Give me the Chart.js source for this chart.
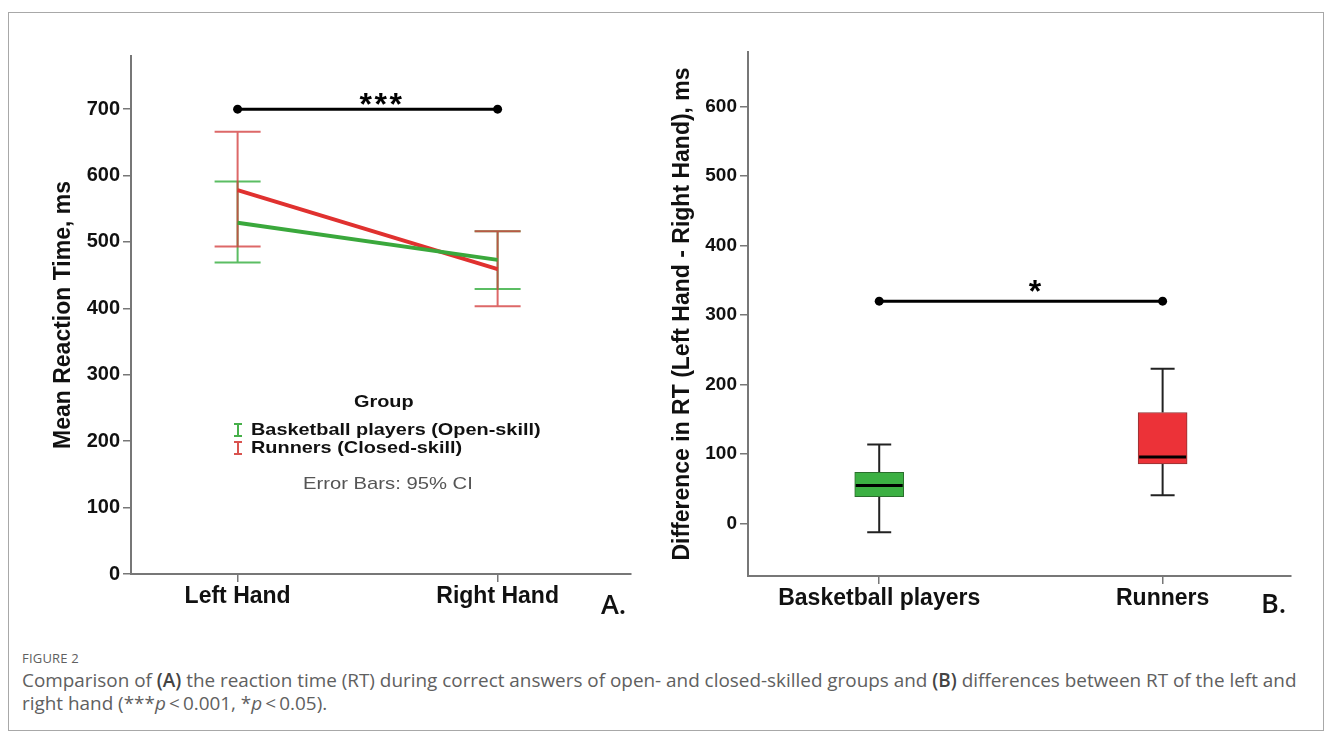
<!DOCTYPE html>
<html>
<head>
<meta charset="utf-8">
<script src="https://cdn.jsdelivr.net/npm/chart.js@4.4.1/dist/chart.umd.min.js"></script>
<style>
  html, body { margin: 0; padding: 0; background: #fff; }
  body { position: relative; width: 1333px; height: 738px; overflow: hidden; font-family: "Liberation Sans", Arial, sans-serif; }
  #frame { position: absolute; left: 8px; top: 12px; width: 1314px; height: 717px; border: 1px solid #a8a8a8; }
  #chartA { position: absolute; left: 0; top: 0; }
  #chartB { position: absolute; left: 660px; top: 0; }
  .txt { position: absolute; white-space: nowrap; color: #111; }
  .leg { font-weight: bold; font-size: 17px; line-height: 18px; transform-origin: left center; transform: translateY(-50%) scaleX(1.17); }
  .icon { position: absolute; width: 8px; height: 10px; border-top: 2px solid; border-bottom: 2px solid; transform: translate(-50%, -50%); }
  .icon::after { content: ""; position: absolute; left: 3px; top: 0; width: 2px; height: 10px; background: currentColor; }
  .letter { font-family: "Open Sans", sans-serif; font-weight: 600; font-size: 27px; transform: translateY(-50%); }
  #caption { position: absolute; left: 22px; top: 647px; font-family: "Open Sans", sans-serif; color: #606060; }
  #caption .fig { font-size: 13px; letter-spacing: 0.2px; line-height: 22px; }
  #caption .body { font-size: 18.9px; line-height: 23px; white-space: nowrap; }
  #caption b { font-weight: 600; color: #444; }
</style>
</head>
<body>
<div id="frame"></div>
<canvas id="chartA" width="660" height="620"></canvas>
<canvas id="chartB" width="673" height="620"></canvas>

<div class="txt leg" style="left:354px; top:402px;">Group</div>
<div class="icon" style="left:237.5px; top:429.5px; color:#47b04a;"></div>
<div class="txt leg" style="left:251px; top:429.5px;">Basketball players (Open-skill)</div>
<div class="icon" style="left:237.5px; top:447.5px; color:#d9534f;"></div>
<div class="txt leg" style="left:251px; top:447.5px;">Runners (Closed-skill)</div>
<div class="txt leg" style="left:303px; top:484px; font-weight:normal; color:#555; transform:translateY(-50%) scaleX(1.19);">Error Bars: 95% CI</div>

<div class="txt letter" style="left:601px; top:603px;">A.</div>
<div class="txt letter" style="left:1261px; top:602px;">B.</div>

<div id="caption">
  <div class="fig">FIGURE 2</div>
  <div class="body">Comparison of <b>(A)</b> the reaction time (RT) during correct answers of open- and closed-skilled groups and <b>(B)</b> differences between RT of the left and<br>right hand (***<i>p</i>&thinsp;&lt;&thinsp;0.001, *<i>p</i>&thinsp;&lt;&thinsp;0.05).</div>
</div>

<script>
// Panel A: mean reaction time with 95% CI
const hands = ['Left Hand', 'Right Hand'];
const handPos = [1, 2];
const basketMean = [529, 473];
const basketLow = [469, 429];
const basketHigh = [591, 516];
const runnerMean = [578, 459];
const runnerLow = [493, 403];
const runnerHigh = [666, 516];
const timeTicks = [0, 100, 200, 300, 400, 500, 600, 700];
const handSigLevel = 700;

// Panel B: left - right difference, box plots
const groups = ['Basketball players', 'Runners'];
const groupPos = [1, 2];
const diffMin = [-12, 41];
const diffQ1 = [39, 86];
const diffMedian = [55, 96];
const diffQ3 = [74, 160];
const diffMax = [114, 223];
const diffTicks = [0, 100, 200, 300, 400, 500, 600];
const groupSigLevel = 320;

const FONT = '"Liberation Sans", Arial, sans-serif';
const AXIS = '#777';

const errorBars = {
    id: 'errorBars',
    beforeDatasetsDraw(chart) {
        const { ctx, scales: { x, y } } = chart;
        const sets = [
            { low: basketLow, high: basketHigh, color: 'rgba(62, 178, 72, 0.85)' },
            { low: runnerLow, high: runnerHigh, color: 'rgba(212, 62, 62, 0.78)' }
        ];
        ctx.save();
        ctx.lineWidth = 2;
        sets.forEach(s => {
            ctx.strokeStyle = s.color;
            handPos.forEach((p, i) => {
                const px = x.getPixelForValue(p);
                const top = y.getPixelForValue(s.high[i]);
                const bot = y.getPixelForValue(s.low[i]);
                ctx.beginPath();
                ctx.moveTo(px, top); ctx.lineTo(px, bot);
                ctx.moveTo(px - 23, top); ctx.lineTo(px + 23, top);
                ctx.moveTo(px - 23, bot); ctx.lineTo(px + 23, bot);
                ctx.stroke();
            });
        });
        ctx.restore();
    }
};

function sigBar(level, stars, lift) {
    return {
        id: 'sigBar',
        afterDatasetsDraw(chart) {
            const { ctx, scales: { x, y } } = chart;
            const py = y.getPixelForValue(level);
            const x1 = x.getPixelForValue(1);
            const x2 = x.getPixelForValue(2);
            ctx.save();
            ctx.strokeStyle = '#000';
            ctx.fillStyle = '#000';
            ctx.lineWidth = 3;
            ctx.beginPath();
            ctx.moveTo(x1, py); ctx.lineTo(x2, py);
            ctx.stroke();
            [x1, x2].forEach(px => {
                ctx.beginPath();
                ctx.arc(px, py, 4.5, 0, Math.PI * 2);
                ctx.fill();
            });
            ctx.font = 'bold 32px ' + FONT;
            ctx.textAlign = 'center';
            ctx.textBaseline = 'alphabetic';
            const cx = x.getPixelForValue(1.55);
            for (let i = 0; i < stars; i++) {
                ctx.fillText('*', cx + (i - (stars - 1) / 2) * 15, py - lift + 18);
            }
            ctx.restore();
        }
    };
}

const boxParts = {
    id: 'boxParts',
    beforeDatasetsDraw(chart) {
        const { ctx, scales: { x, y } } = chart;
        ctx.save();
        ctx.strokeStyle = '#222';
        ctx.lineWidth = 2;
        groupPos.forEach((p, i) => {
            const px = x.getPixelForValue(p);
            const hi = y.getPixelForValue(diffMax[i]);
            const lo = y.getPixelForValue(diffMin[i]);
            ctx.beginPath();
            ctx.moveTo(px, hi); ctx.lineTo(px, y.getPixelForValue(diffQ3[i]));
            ctx.moveTo(px, lo); ctx.lineTo(px, y.getPixelForValue(diffQ1[i]));
            ctx.moveTo(px - 12, hi); ctx.lineTo(px + 12, hi);
            ctx.moveTo(px - 12, lo); ctx.lineTo(px + 12, lo);
            ctx.stroke();
        });
        ctx.restore();
    },
    afterDatasetsDraw(chart) {
        const { ctx, scales: { y } } = chart;
        const bars = chart.getDatasetMeta(0).data;
        ctx.save();
        ctx.strokeStyle = '#000';
        ctx.lineWidth = 3;
        bars.forEach((bar, i) => {
            const py = y.getPixelForValue(diffMedian[i]);
            ctx.beginPath();
            ctx.moveTo(bar.x - bar.width / 2 + 1, py);
            ctx.lineTo(bar.x + bar.width / 2 - 1, py);
            ctx.stroke();
        });
        ctx.restore();
    }
};

function xAxis(min, max, positions, labels) {
    return {
        type: 'linear',
        min: min,
        max: max,
        offset: false,
        afterBuildTicks: s => { s.ticks = positions.map(v => ({ value: v })); },
        afterFit: s => { s.height = 40; },
        ticks: {
            callback: v => labels[positions.indexOf(v)],
            font: { family: FONT, size: 23, weight: 'bold' },
            color: '#111',
            padding: 1,
            maxRotation: 0,
            autoSkip: false
        },
        grid: { offset: false, drawOnChartArea: false, tickLength: 8, color: AXIS, lineWidth: 1.5 },
        border: { color: AXIS, width: 2 }
    };
}

function yAxis(min, max, ticks, width, title, titlePad, size) {
    return {
        min: min,
        max: max,
        afterBuildTicks: s => { s.ticks = ticks.map(v => ({ value: v })); },
        afterFit: s => { s.width = width; },
        ticks: {
            font: { family: FONT, size: size, weight: 'bold' },
            color: '#111',
            padding: 3
        },
        title: {
            display: true,
            text: title,
            color: '#111',
            font: { family: FONT, size: 23, weight: 'bold' },
            padding: { top: titlePad, bottom: 0 }
        },
        grid: { drawOnChartArea: false, tickLength: 8, color: AXIS, lineWidth: 1.5 },
        border: { color: AXIS, width: 2 }
    };
}

new Chart(document.getElementById('chartA'), {
    type: 'line',
    data: {
        datasets: [{
            label: 'Basketball players (Open-skill)',
            data: handPos.map((p, i) => ({ x: p, y: basketMean[i] })),
            borderColor: '#3aa83c',
            borderWidth: 4,
            pointRadius: 0
        }, {
            label: 'Runners (Closed-skill)',
            data: handPos.map((p, i) => ({ x: p, y: runnerMean[i] })),
            borderColor: '#e0312f',
            borderWidth: 4,
            pointRadius: 0
        }]
    },
    options: {
        responsive: false,
        animation: false,
        layout: { padding: { left: 0, top: 56, right: 29, bottom: 6 } },
        plugins: { legend: { display: false }, tooltip: { enabled: false } },
        scales: {
            x: xAxis(0.59, 2.513, handPos, hands),
            y: yAxis(0, 780, timeTicks, 131, 'Mean Reaction Time, ms', 50, 20)
        }
    },
    plugins: [errorBars, sigBar(handSigLevel, 3, 12)]
});

new Chart(document.getElementById('chartB'), {
    type: 'bar',
    data: {
        datasets: [{
            label: 'Difference in RT',
            data: groupPos.map((p, i) => ({ x: p, y: [diffQ1[i], diffQ3[i]] })),
            backgroundColor: ['#3cb043', '#ec3238'],
            borderColor: ['#2a6e2c', '#8e3434'],
            borderWidth: 1,
            borderSkipped: false,
            barThickness: 49
        }]
    },
    options: {
        responsive: false,
        animation: false,
        layout: { padding: { left: 0, top: 52, right: 42, bottom: 4 } },
        plugins: { legend: { display: false }, tooltip: { enabled: false } },
        scales: {
            x: xAxis(0.537, 2.453, groupPos, groups),
            y: yAxis(-75, 678, diffTicks, 88, 'Difference in RT (Left Hand - Right Hand), ms', 9, 19)
        }
    },
    plugins: [boxParts, sigBar(groupSigLevel, 1, 17)]
});
</script>
</body>
</html>
